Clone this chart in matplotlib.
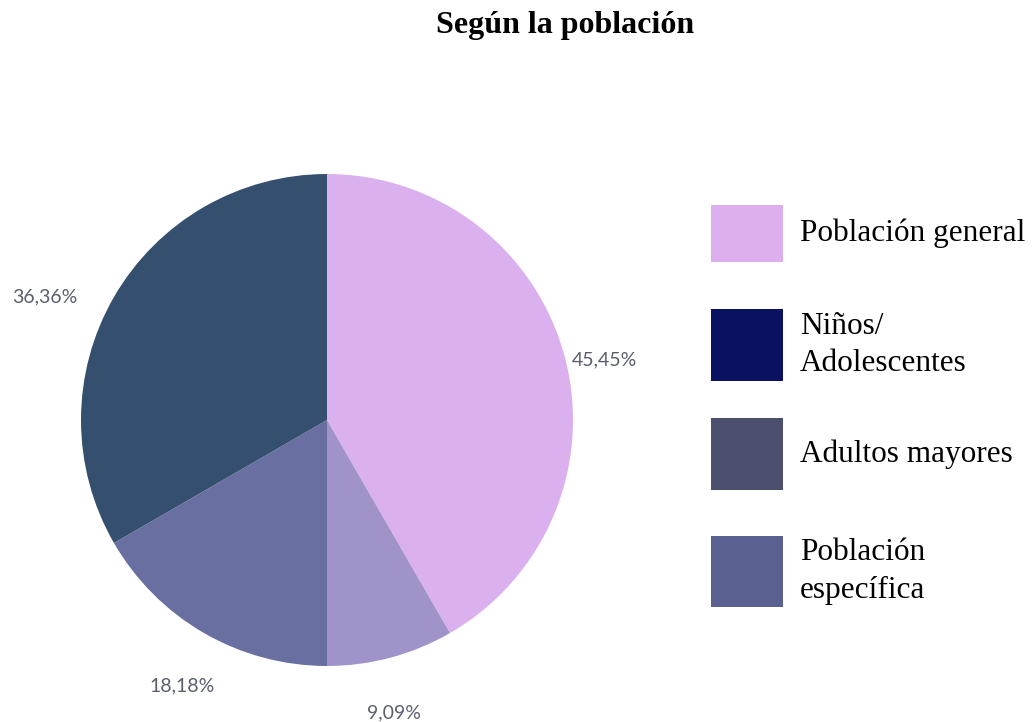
import numpy as np
import matplotlib
matplotlib.use("Agg")
import matplotlib.pyplot as plt
from matplotlib.patches import Rectangle

# data
categories = ["Población general", "Niños/\nAdolescentes", "Adultos mayores", "Población\nespecífica"]
values = [45.45, 9.09, 18.18, 36.36]
pct_labels = ["45,45%", "9,09%", "18,18%", "36,36%"]
pie_colors = ["#dbb0ee", "#a093c9", "#6a6fa2", "#35506f"]
legend_colors = ["#dcaeee", "#0a1160", "#4d4f6e", "#5a6190"]

# label placement (angle offset from slice middle in deg, radial distance)
label_pos = [(-2.8, 1.155), (-2.1, 1.22), (1.3, 1.23), (6.4, 1.25)]

fig = plt.figure(figsize=(10.32, 7.22), dpi=100)
W, H = 1032, 722

cx, cy, R = 327, 420, 246
ax = fig.add_axes([(cx - R) / W, (H - cy - R) / H, 2 * R / W, 2 * R / H])
wedges, _ = ax.pie(values, colors=pie_colors, startangle=90, counterclock=False,
                   radius=1, wedgeprops=dict(linewidth=0))
ax.set_xlim(-1, 1)
ax.set_ylim(-1, 1)
ax.set_aspect("equal")
ax.axis("off")

for w, lab, (off, dist) in zip(wedges, pct_labels, label_pos):
    mid = (w.theta1 + w.theta2) / 2 + off
    x = dist * np.cos(np.radians(mid))
    y = dist * np.sin(np.radians(mid))
    ax.text(x, y, lab, ha="center", va="center", fontsize=14, color="#5a5f6e",
            family="Lato", clip_on=False)

fig.text(565 / W, 1 - 25 / H, "Según la población", ha="center", va="center",
         fontsize=23, fontweight="bold", family="Liberation Serif", color="black")

# legend
box_tops = [205, 309, 418, 536]
box_h = [57, 72, 72, 71]
for top, h, col, name in zip(box_tops, box_h, legend_colors, categories):
    fig.patches.append(Rectangle((711 / W, 1 - (top + h) / H), 72 / W, h / H,
                                 transform=fig.transFigure, color=col, lw=0))
    fig.text(800 / W, 1 - (top + h / 2) / H, name, ha="left", va="center",
             fontsize=22.5, family="Liberation Serif", color="black", linespacing=1.4)

plt.savefig("out.png", dpi=100, facecolor="white")
